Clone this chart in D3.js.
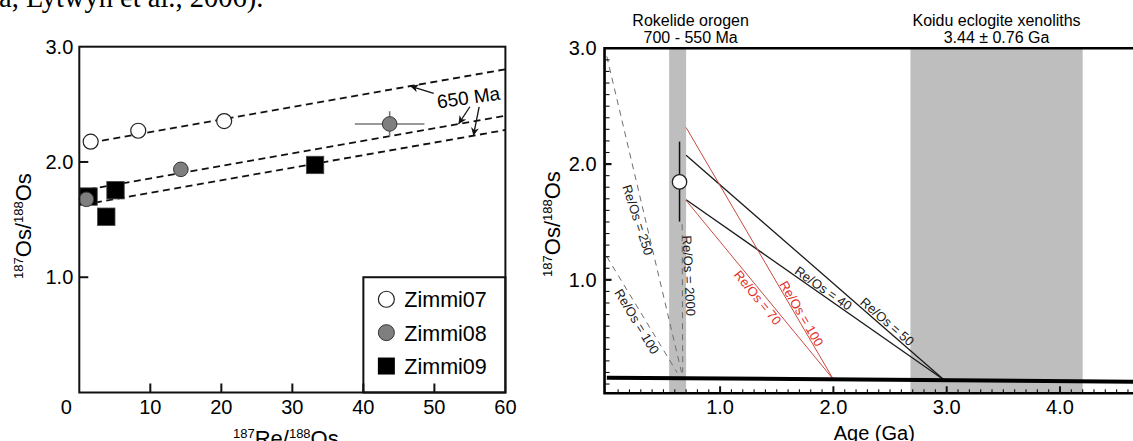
<!DOCTYPE html>
<html>
<head>
<meta charset="utf-8">
<script src="https://cdn.jsdelivr.net/npm/d3@7"></script>
<style>
  body { margin: 0; background: #fff; }
  svg { display: block; font-family: "Liberation Sans", Arial, sans-serif; }
</style>
</head>
<body>
<script>
const width = 1133, height = 441;

// ---- left panel: Re-Os isochron diagram ----
const zimmi07 = [[1.6, 2.176], [8.3, 2.271], [20.4, 2.355]];
const zimmi08 = [[1.0, 1.676], [14.3, 1.936], [43.7, 2.33]];
const zimmi09 = [[1.3, 1.70], [3.8, 1.525], [5.1, 1.755], [33.2, 1.974]];
const zimmi08Err = [{x: 43.7, y: 2.33, x0: 38.8, x1: 48.6, y0: 2.22, y1: 2.44}];
const slope650 = 0.01089;                 // e^(lambda * 650 Ma) - 1
const isoIntercepts = [2.151, 1.748, 1.624];
const isoStart = [1.6, 1.3, 2.2];
const xTicksL = [0, 10, 20, 30, 40, 50, 60];
const yTicksL = [1.0, 2.0, 3.0];
const legendItems = ["Zimmi07", "Zimmi08", "Zimmi09"];
const arrowTails = [[49.9, 2.596], [55.0, 2.479], [56.3, 2.479]];
const arrowTipX = [46.6, 53.4, 55.5];

// ---- right panel: Os evolution vs age ----
const rokelide = [0.55, 0.70];
const koidu = [2.68, 4.20];
const mantle = [[0, 0.155], [4.7, 0.12]];
const sample = {age: 0.642, os: 1.846, lo: 1.503, hi: 2.194};
const modelLines = [
  {label: "Re/Os = 50", color: "black", from: [0.70, 2.077], to: [2.98, 0.133]},
  {label: "Re/Os = 40", color: "black", from: [0.70, 1.692], to: [2.98, 0.133]},
  {label: "Re/Os = 100", color: "red", from: [0.70, 2.316], to: [2.0, 0.14]},
  {label: "Re/Os = 70", color: "red", from: [0.70, 1.686], to: [2.0, 0.14]}
];
const dashedLines = [
  {label: "Re/Os = 250", from: [0.0, 2.93], to: [0.66, 0.20]},
  {label: "Re/Os = 100", from: [0.0, 1.20], to: [0.62, 0.20]},
  {label: "Re/Os = 2000", from: [0.665, 1.48], to: [0.67, 0.20]}
];
const xTicksR = [1.0, 2.0, 3.0, 4.0];
const yTicksR = [1.0, 2.0, 3.0];

// label placement along lines: fraction, baseline offset, optional rotation
const modelLabelPos = [
  {t: 0.762, dy: -2}, {t: 0.518, dy: -1.5}, {t: 0.75, dy: -1.2}, {t: 0.52, dy: 11}
];
const dashedLabelPos = [
  {t: 0.51, dy: 12, rot: 72}, {t: 0.525, dy: 12.4}, {t: 0.35, dy: -2, rot: 87}
];

const svg = d3.select("body").append("svg")
    .attr("width", width)
    .attr("height", height);

const defs = svg.append("defs");
defs.append("marker")
    .attr("id", "arrow")
    .attr("viewBox", "0 0 10 10")
    .attr("refX", 10).attr("refY", 5)
    .attr("markerWidth", 8).attr("markerHeight", 8)
    .attr("markerUnits", "userSpaceOnUse")
    .attr("orient", "auto")
    .append("path")
    .attr("d", "M0,0 L10,5 L0,10 L3,5 z")
    .attr("fill", "#111");

// fragment of body text above the figure
svg.append("text")
    .attr("x", -1).attr("y", 7)
    .style("font-family", "'Liberation Serif', 'Times New Roman', serif")
    .style("font-size", "28.5px")
    .text("a, Lytwyn et al., 2006).");

// superscripted label helper
function isoLabel(sel, a, b, c, d, big, small) {
  sel.append("tspan").style("font-size", small + "px").attr("dy", -8).text(a);
  sel.append("tspan").style("font-size", big + "px").attr("dy", 8).text(b);
  sel.append("tspan").style("font-size", small + "px").attr("dy", -8).text(c);
  sel.append("tspan").style("font-size", big + "px").attr("dy", 8).text(d);
}

// ================= LEFT PANEL =================
const xL = d3.scaleLinear().domain([0, 60]).range([79.3, 505.4]);
const yL = d3.scaleLinear().domain([0, 3]).range([392.5, 46.7]);
const left = svg.append("g");

// 650 Ma reference isochrons
left.selectAll(".iso")
    .data(isoIntercepts)
    .enter().append("line")
    .attr("x1", (d, i) => xL(isoStart[i]))
    .attr("y1", (d, i) => yL(d + slope650 * isoStart[i]))
    .attr("x2", xL(60))
    .attr("y2", d => yL(d + slope650 * 60))
    .attr("stroke", "#111")
    .attr("stroke-width", 1.8)
    .attr("stroke-dasharray", "7,4.5");

// arrows to the isochrons
left.selectAll(".arrow")
    .data(arrowTails)
    .enter().append("line")
    .attr("x1", d => xL(d[0]))
    .attr("y1", d => yL(d[1]))
    .attr("x2", (d, i) => xL(arrowTipX[i]))
    .attr("y2", (d, i) => yL(isoIntercepts[i] + slope650 * arrowTipX[i]))
    .attr("stroke", "#111")
    .attr("stroke-width", 1.3)
    .attr("marker-end", "url(#arrow)");

left.append("text")
    .attr("transform", `translate(${xL(54.8)},${yL(2.563)}) rotate(-8)`)
    .attr("text-anchor", "middle")
    .attr("dy", 7)
    .style("font-size", "19px")
    .text("650 Ma");

// error bars
zimmi08Err.forEach(e => {
  left.append("line").attr("x1", xL(e.x0)).attr("x2", xL(e.x1))
      .attr("y1", yL(e.y)).attr("y2", yL(e.y))
      .attr("stroke", "#777").attr("stroke-width", 1.6);
  left.append("line").attr("x1", xL(e.x)).attr("x2", xL(e.x))
      .attr("y1", yL(e.y0)).attr("y2", yL(e.y1))
      .attr("stroke", "#777").attr("stroke-width", 1.6);
});

// points
left.selectAll(".z07").data(zimmi07).enter().append("circle")
    .attr("cx", d => xL(d[0])).attr("cy", d => yL(d[1])).attr("r", 7.5)
    .attr("fill", "#fff").attr("stroke", "#222").attr("stroke-width", 1.2);

left.selectAll(".z09").data(zimmi09).enter().append("rect")
    .attr("x", d => xL(d[0]) - 8.7).attr("y", d => yL(d[1]) - 8.7)
    .attr("width", 17.4).attr("height", 17.4)
    .attr("fill", "#000").attr("stroke", "#444").attr("stroke-width", 0.8);

left.selectAll(".z08").data(zimmi08).enter().append("circle")
    .attr("cx", d => xL(d[0])).attr("cy", d => yL(d[1])).attr("r", 7.3)
    .attr("fill", "#7f7f7f").attr("stroke", "#333").attr("stroke-width", 1);

// legend
const lgX = xL(40), lgY = yL(1.0);
left.append("rect")
    .attr("x", lgX).attr("y", lgY)
    .attr("width", xL(60) - lgX).attr("height", yL(0) - lgY)
    .attr("fill", "#fff").attr("stroke", "#111").attr("stroke-width", 2);

const lg = left.selectAll(".lg").data(legendItems).enter().append("g")
    .attr("transform", (d, i) => `translate(${lgX + 23},${lgY + 22 + i * 33.4})`);
lg.each(function(d, i) {
  const g = d3.select(this);
  if (i === 0) g.append("circle").attr("r", 8).attr("fill", "#fff").attr("stroke", "#222").attr("stroke-width", 1.2);
  if (i === 1) g.append("circle").attr("r", 8).attr("fill", "#7f7f7f").attr("stroke", "#333");
  if (i === 2) g.append("rect").attr("x", -8.5).attr("y", -8.5).attr("width", 17).attr("height", 17).attr("fill", "#000");
});
lg.append("text")
    .attr("x", 18).attr("y", 8)
    .style("font-size", "21.5px")
    .text(d => d);

// frame and ticks
left.append("rect")
    .attr("x", xL(0)).attr("y", yL(3))
    .attr("width", xL(60) - xL(0)).attr("height", yL(0) - yL(3))
    .attr("fill", "none").attr("stroke", "#111").attr("stroke-width", 2);

left.selectAll(".xt").data(xTicksL.slice(1, -1)).enter().append("line")
    .attr("x1", d => xL(d)).attr("x2", d => xL(d))
    .attr("y1", yL(0)).attr("y2", yL(0) - 9)
    .attr("stroke", "#111").attr("stroke-width", 2);
left.selectAll(".yt").data(yTicksL.slice(0, -1)).enter().append("line")
    .attr("x1", xL(0)).attr("x2", xL(0) + 9)
    .attr("y1", d => yL(d)).attr("y2", d => yL(d))
    .attr("stroke", "#111").attr("stroke-width", 2);

left.selectAll(".xl").data(xTicksL).enter().append("text")
    .attr("x", d => xL(d) + (d === 0 ? -13 : 0))
    .attr("y", 413.5)
    .attr("text-anchor", "middle")
    .style("font-size", "20px")
    .text(d => d);
left.selectAll(".yl").data(yTicksL).enter().append("text")
    .attr("x", xL(0) - 6)
    .attr("y", d => yL(d) + 7)
    .attr("text-anchor", "end")
    .style("font-size", "20px")
    .text(d => d3.format(".1f")(d));

left.append("text")
    .attr("x", (xL(0) + xL(60)) / 2 - 6.5)
    .attr("y", 445.8)
    .attr("text-anchor", "middle")
    .call(isoLabel, "187", "Re/", "188", "Os", 22, 13);

left.append("text")
    .attr("transform", `translate(31,226) rotate(-90)`)
    .attr("text-anchor", "middle")
    .call(isoLabel, "187", "Os/", "188", "Os", 22, 13);

// ================= RIGHT PANEL =================
const xR = d3.scaleLinear().domain([0, 4.64]).range([606.8, 1132.5]);
const yR = d3.scaleLinear().domain([0.02, 3]).range([393.3, 48.3]);
const right = svg.append("g");

[rokelide, koidu].forEach(b => {
  right.append("rect")
      .attr("x", xR(b[0])).attr("y", yR(3))
      .attr("width", xR(b[1]) - xR(b[0])).attr("height", yR(0.02) - yR(3))
      .attr("fill", "#bebebe");
});

const line = d3.line().x(d => xR(d[0])).y(d => yR(d[1]));

// dashed model lines
dashedLines.forEach(l => {
  right.append("path")
      .attr("d", line([l.from, l.to]))
      .attr("fill", "none").attr("stroke", "#6e6e6e")
      .attr("stroke-width", 1).attr("stroke-dasharray", "6,5");
});

// solid model lines
modelLines.forEach(l => {
  right.append("path")
      .attr("d", line([l.from, l.to]))
      .attr("fill", "none")
      .attr("stroke", l.color === "red" ? "#c94a42" : "#1a1a1a")
      .attr("stroke-width", l.color === "red" ? 1 : 1.3);
});

// mantle evolution
right.append("path")
    .attr("d", line(mantle))
    .attr("stroke", "#000").attr("stroke-width", 4);

// labels along lines
function lineLabel(l, pos, color) {
  const x0 = xR(l.from[0]), y0 = yR(l.from[1]), x1 = xR(l.to[0]), y1 = yR(l.to[1]);
  const a = pos.rot != null ? pos.rot : Math.atan2(y1 - y0, x1 - x0) * 180 / Math.PI;
  const px = x0 + pos.t * (x1 - x0), py = y0 + pos.t * (y1 - y0);
  right.append("text")
      .attr("transform", `translate(${px},${py}) rotate(${a})`)
      .attr("text-anchor", "middle")
      .attr("dy", pos.dy)
      .attr("fill", color)
      .style("font-size", "13px")
      .text(l.label);
}
modelLines.forEach((l, i) => lineLabel(l, modelLabelPos[i], l.color === "red" ? "#e2302a" : "#1a1a1a"));
dashedLines.forEach((l, i) => lineLabel(l, dashedLabelPos[i], "#1a1a1a"));

// sample with error bar
right.append("line")
    .attr("x1", xR(sample.age)).attr("x2", xR(sample.age))
    .attr("y1", yR(sample.lo)).attr("y2", yR(sample.hi))
    .attr("stroke", "#111").attr("stroke-width", 1.5);
right.append("circle")
    .attr("cx", xR(sample.age)).attr("cy", yR(sample.os)).attr("r", 7.2)
    .attr("fill", "#fff").attr("stroke", "#222").attr("stroke-width", 1.3);

// frame
const fx0 = xR(-0.02);
right.append("path")
    .attr("d", `M${width},${yR(3)} H${fx0} V${yR(0.02)} H${width}`)
    .attr("fill", "none").attr("stroke", "#000").attr("stroke-width", 2.6);

// ticks
const minorY = d3.range(1, 30).map(d => d / 10);
right.selectAll(".ytm").data(minorY).enter().append("line")
    .attr("x1", fx0).attr("x2", d => fx0 + (d % 1 === 0 ? 7 : 5))
    .attr("y1", d => yR(d)).attr("y2", d => yR(d))
    .attr("stroke", "#111").attr("stroke-width", d => (d % 1 === 0 ? 2.2 : 1.1));
const minorX = d3.range(1, 47).map(d => d / 10);
right.selectAll(".xtm").data(minorX).enter().append("line")
    .attr("x1", d => xR(d)).attr("x2", d => xR(d))
    .attr("y1", yR(0.02)).attr("y2", d => yR(0.02) - (Math.abs(d % 1) < 1e-9 ? 7 : 4))
    .attr("stroke", "#111").attr("stroke-width", d => (Math.abs(d % 1) < 1e-9 ? 2 : 1.1));

right.selectAll(".xl").data(xTicksR).enter().append("text")
    .attr("x", d => xR(d)).attr("y", 413.5)
    .attr("text-anchor", "middle")
    .style("font-size", "20px")
    .text(d => d3.format(".1f")(d));
right.selectAll(".yl").data(yTicksR).enter().append("text")
    .attr("x", fx0 - 8).attr("y", d => yR(d) + 7)
    .attr("text-anchor", "end")
    .style("font-size", "20px")
    .text(d => d3.format(".1f")(d));

right.append("text")
    .attr("x", 874.3).attr("y", 440)
    .attr("text-anchor", "middle")
    .style("font-size", "20px")
    .text("Age (Ga)");

right.append("text")
    .attr("transform", `translate(559.5,224) rotate(-90)`)
    .attr("text-anchor", "middle")
    .call(isoLabel, "187", "Os/", "188", "Os", 22, 13);

// band titles
const bandTitles = [
  {x: 0.74, lines: ["Rokelide orogen", "700 - 550 Ma"]},
  {x: 3.44, lines: ["Koidu eclogite xenoliths", "3.44 \u00b1 0.76 Ga"]}
];
bandTitles.forEach(b => {
  b.lines.forEach((t, i) => {
    right.append("text")
        .attr("x", xR(b.x)).attr("y", 26 + i * 17.3)
        .attr("text-anchor", "middle")
        .style("font-size", "16px")
        .text(t);
  });
});
</script>
</body>
</html>
